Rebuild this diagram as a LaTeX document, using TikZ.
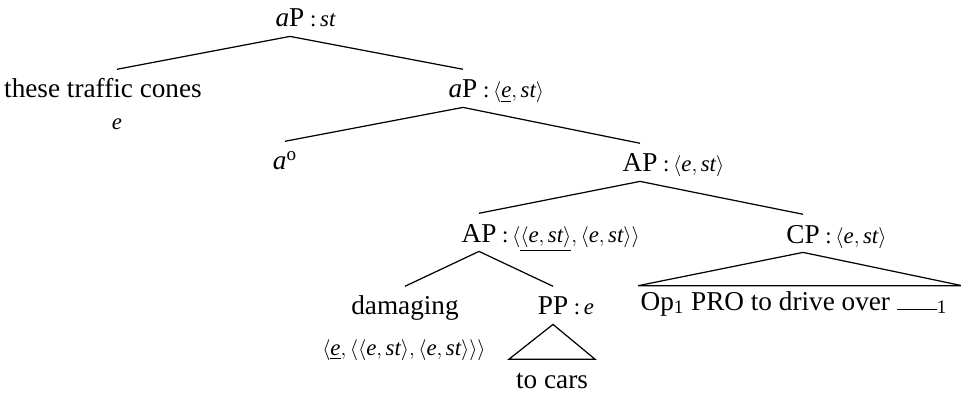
\documentclass[tikz,border=0pt]{standalone}
\usepackage{amsmath}
\usepackage{fontspec}
\setmainfont{Liberation Serif}
\usepackage{tikz}
\usetikzlibrary{calc}

\begin{document}
\begin{tikzpicture}[x=0.02cm, y=-0.02cm, line width=0.7pt,
		font=\fontsize{15.5}{18}\selectfont,
		cat/.style={anchor=base, inner xsep=0pt, inner ysep=5pt, text height=11pt, text depth=0pt},
		ty/.style={anchor=base west, inner sep=0pt, font=\fontsize{13}{15}\selectfont},
		leaf/.style={anchor=base west, inner xsep=0pt, inner ysep=2.5pt, text height=11pt, text depth=0pt}]
		\useasboundingbox (0,0) rectangle (961,395);
		
		% categories
		\node[cat] (top) at (290,27) {\textit{a}P};
		\node[cat] (cones) at (103,98) {these traffic cones};
		\node[cat] (aP) at (463,98) {\textit{a}P};
		\node[cat] (aoo) at (285,170) {\textit{a}\textsuperscript{o}};
		\node[cat] (APm) at (640,172) {AP};
		\node[cat] (APl) at (479,242) {AP};
		\node[cat] (CP) at (803,243) {CP};
		\node[cat] (dmg) at (405,315) {damaging};
		\node[cat] (PP) at (553,315) {PP};
		\node[cat, minimum width=1.7cm] (cars) at (552,388) {to cars};
		\node[leaf] (op) at (640,310) {Op\textsubscript{1} PRO to drive over \rule{0.8cm}{0.6pt}\textsubscript{1}};
		
		% types
		\node[ty] (topty) at ([xshift=2.5pt]top.base east) {:\,\textit{st}};
		\node[ty, anchor=base] (conesty) at (117,130) {\textit{e}};
		\node[ty] (aPty) at ([xshift=2.5pt]aP.base east) {:\,$\langle\underline{\textit{e}},\textit{st}\rangle$};
		\node[ty] (APmty) at ([xshift=2.5pt]APm.base east) {:\,$\langle\textit{e},\textit{st}\rangle$};
		\node[ty] (APlty) at ([xshift=2.5pt]APl.base east) {:\,$\langle\underline{\langle\textit{e},\textit{st}\rangle},\langle\textit{e},\textit{st}\rangle\rangle$};
		\node[ty] (CPty) at ([xshift=2.5pt]CP.base east) {:\,$\langle\textit{e},\textit{st}\rangle$};
		\node[ty, anchor=base] (dmgty) at (404,355) {$\langle\underline{\textit{e}},\langle\langle\textit{e},\textit{st}\rangle,\langle\textit{e},\textit{st}\rangle\rangle\rangle$};
		\node[ty] (PPty) at ([xshift=2.5pt]PP.base east) {:\,\textit{e}};
		
		% branches
		\draw (top.south) -- (cones.north -| conesty);
		\draw (top.south) -- (aP.north);
		\draw (aP.south) -- (aoo.north);
		\draw (aP.south) -- (APm.north);
		\draw (APm.south) -- (APl.north);
		\draw (APm.south) -- (CP.north);
		\draw (APl.south) -- (dmg.north);
		\draw (APl.south) -- (PP.north);
		
		% roofs
		\draw (PP.south) -- (cars.north west) -- (cars.north east) -- cycle;
		\draw (CP.south) -- ([xshift=-1pt]op.north west) -- ($(op.north west)+(322,0)$) -- cycle;
	\end{tikzpicture}
\end{document}
